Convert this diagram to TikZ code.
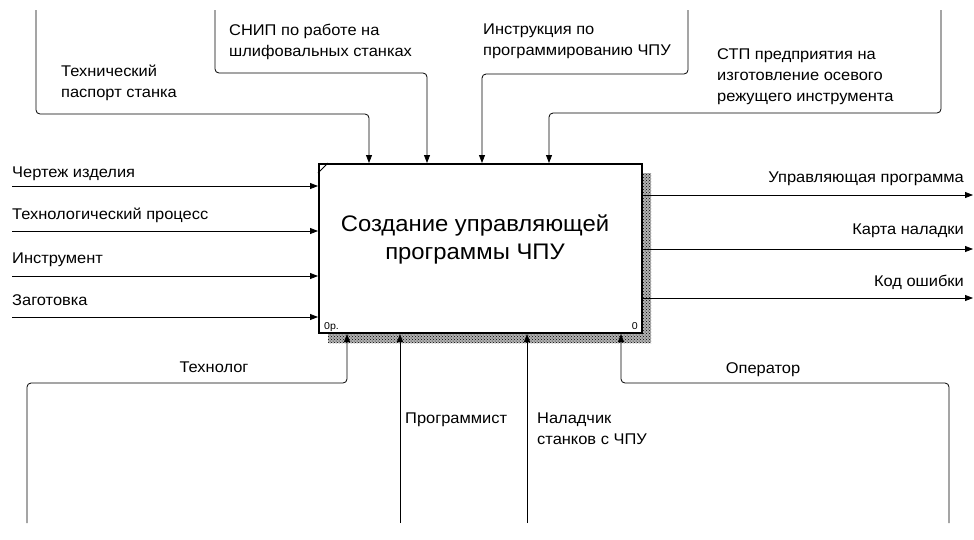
\documentclass[tikz,border=0pt]{standalone}
\usepackage{fontspec}
\setmainfont{Liberation Sans}[FakeStretch=1.06]
\usetikzlibrary{arrows.meta,patterns}

\begin{document}
\begin{tikzpicture}[x=1pt,y=-1pt,>={Triangle[length=8pt,width=6pt]}]
\tikzstyle{process}=[draw=black,fill=white,line width=2pt,minimum width=323pt,minimum height=169pt,inner sep=0pt]
\tikzstyle{arrow}=[->,line width=0.8pt,rounded corners=4pt]
\tikzstyle{txt}=[inner sep=0pt,align=left,font=\fontsize{15.5}{21}\selectfont]
\useasboundingbox (0,0) rectangle (974,539);
% activity box with its shadow
\fill[black!30] (328,173) rectangle (651,343);
\fill[pattern=crosshatch dots,pattern color=black] (328,173) rectangle (651,343);
\node[process] (proc) at (480.5,248.5) {};
\node[inner sep=0pt,align=center,font=\fontsize{22.5}{28}\selectfont] (title) at (475,239) {Создание управляющей\\программы ЧПУ};
\draw[line width=1pt] ([yshift=-10pt]proc.north west) -- ([xshift=10pt]proc.north west);
\node[inner sep=0pt,anchor=base west,font=\fontsize{10}{11}\selectfont] (num) at (324,329) {0р.};
\node[inner sep=0pt,anchor=base east,font=\fontsize{10}{11}\selectfont] (idx) at (638,329) {0};
% controls
\coordinate (srcT1) at (36,10);
\coordinate (srcT2) at (215,10);
\coordinate (srcT3) at (688,10);
\coordinate (srcT4) at (941,10);
\coordinate (ctrl1) at (369,163);
\coordinate (ctrl2) at (427,163);
\coordinate (ctrl3) at (482,163);
\coordinate (ctrl4) at (549,163);
\draw[arrow] (srcT1) -- ++(0,104) -| (ctrl1);
\draw[arrow] (srcT2) -- ++(0,63) -| (ctrl2);
\draw[arrow] (srcT3) -- ++(0,64) -| (ctrl3);
\draw[arrow] (srcT4) -- ++(0,103) -| (ctrl4);
\node[txt,anchor=north west] (tPasp) at (61,65) {Технический\\паспорт станка};
\node[txt,anchor=north west] (tSnip) at (229,24) {СНИП по работе на\\шлифовальных станках};
\node[txt,anchor=north west] (tInstr) at (483,24) {Инструкция по\\программированию ЧПУ};
\node[txt,anchor=north west] (tStp) at (717,48) {СТП предприятия на\\изготовление осевого\\режущего инструмента};
% inputs
\foreach \i/\y in {1/186,2/231,3/276,4/317}{
  \coordinate (srcL\i) at (12,\y);
  \coordinate (in\i) at (318,\y);
  \draw[arrow] (srcL\i) -- (in\i);
}
\node[txt,anchor=north west] (tDraw) at (12,167) {Чертеж изделия};
\node[txt,anchor=north west] (tProc) at (12,208) {Технологический процесс};
\node[txt,anchor=north west] (tTool) at (12,253) {Инструмент};
\node[txt,anchor=north west] (tBlank) at (12,294) {Заготовка};
% outputs
\foreach \i/\y in {1/195,2/249,3/298}{
  \coordinate (out\i) at (643,\y);
  \coordinate (dstR\i) at (973,\y);
  \draw[arrow] (out\i) -- (dstR\i);
}
\node[txt,anchor=north east] (tProg) at (964,172) {Управляющая программа};
\node[txt,anchor=north east] (tCard) at (964,224) {Карта наладки};
\node[txt,anchor=north east] (tErr) at (964,275) {Код ошибки};
% mechanisms
\coordinate (srcB1) at (27,523);
\coordinate (srcB2) at (400,523);
\coordinate (srcB3) at (527,523);
\coordinate (srcB4) at (949,523);
\coordinate (mech1) at (347,334);
\coordinate (mech2) at (400,334);
\coordinate (mech3) at (527,334);
\coordinate (mech4) at (621,334);
\draw[arrow] (srcB1) -- ++(0,-140) -| (mech1);
\draw[arrow] (srcB2) -- (mech2);
\draw[arrow] (srcB3) -- (mech3);
\draw[arrow] (srcB4) -- ++(0,-140) -| (mech4);
\node[txt,anchor=north] (tTechn) at (214,362) {Технолог};
\node[txt,anchor=north] (tOper) at (763,362) {Оператор};
\node[txt,anchor=north west] (tProgr) at (405,413) {Программист};
\node[txt,anchor=north west] (tNal) at (537,413) {Наладчик\\станков с ЧПУ};
\end{tikzpicture}
\end{document}
